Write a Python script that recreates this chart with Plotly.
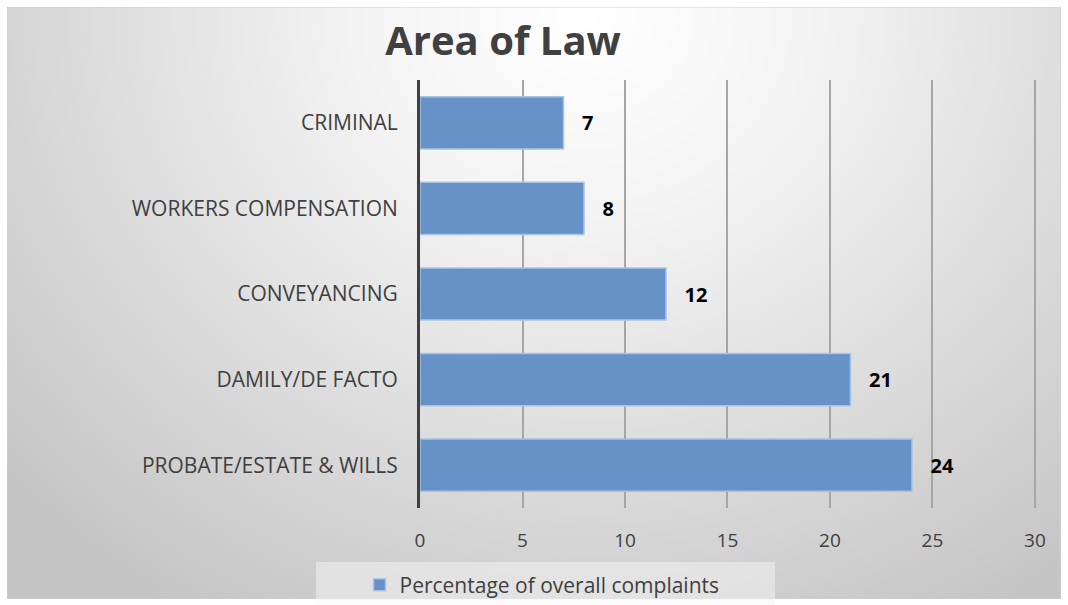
import base64
import plotly.graph_objects as go

categories = ["PROBATE/ESTATE & WILLS", "DAMILY/DE FACTO", "CONVEYANCING",
              "WORKERS COMPENSATION", "CRIMINAL"]
values = [24, 21, 12, 8, 7]
series_name = "Percentage of overall complaints"
x_ticks = [0, 5, 10, 15, 20, 25, 30]

W, H = 1068, 605
L, R, T, B = 420, 1036, 80, 508

svg = f'''<svg xmlns="http://www.w3.org/2000/svg" width="1054" height="592" viewBox="0 0 1054 592">
<defs><radialGradient id="g" gradientUnits="userSpaceOnUse" cx="580" cy="10" r="780"
gradientTransform="translate(580,10) scale(1,0.9) translate(-580,-10)">
<stop offset="0" stop-color="#ffffff"/><stop offset="0.3" stop-color="#f3f3f3"/>
<stop offset="1" stop-color="#c4c4c4"/></radialGradient></defs>
<rect x="0" y="0" width="1054" height="592" fill="url(#g)" stroke="#d0d0d0" stroke-width="1"/></svg>'''
src = "data:image/svg+xml;base64," + base64.b64encode(svg.encode()).decode()

def px(x):
    return (x - L) / (R - L)

def py(y):
    return (B - y) / (B - T)

fig = go.Figure()
fig.add_trace(go.Bar(
    y=categories, x=values, orientation="h", name=series_name,
    marker=dict(color="#6792c8", line=dict(color="#a9c3e4", width=1.5)),
    width=0.61,
    text=values, texttemplate="   <b>%{x}</b>", textposition="outside",
    textfont=dict(family="Open Sans", size=20, color="#000000"),
    cliponaxis=False,
))

fig.update_layout(
    width=W, height=H,
    margin=dict(l=L, r=W - R, t=T, b=H - B, autoexpand=False),
    paper_bgcolor="#ffffff", plot_bgcolor="rgba(0,0,0,0)",
    title=dict(text="<b>Area of Law</b>", x=503 / W, xanchor="center",
               y=1 - 41 / H, yanchor="middle",
               font=dict(family="Open Sans", size=40, color="#404040")),
    font=dict(family="Open Sans", color="#404040"),
    xaxis=dict(range=[0, 30.05], tickvals=x_ticks, showgrid=True,
               gridcolor="#a6a6a6", gridwidth=2, zeroline=False,
               showline=False, ticks="", tickfont=dict(size=19, color="#404040"),
               ticklabelstandoff=19),
    yaxis=dict(showline=True, linecolor="#404040", linewidth=3, ticks="",
               tickfont=dict(size=21, color="#404040"), ticklabelstandoff=15,
               showgrid=False),
    bargap=0.39,
    showlegend=True,
    legend=dict(orientation="h", x=px(542), xanchor="center", y=py(585),
                yanchor="middle", bgcolor="rgba(0,0,0,0)",
                font=dict(size=21, color="#404040"),
                itemwidth=30),
    shapes=[dict(type="rect", xref="paper", yref="paper",
                 x0=px(316), x1=px(775), y0=py(562), y1=py(606),
                 fillcolor="rgba(245,245,245,0.5)", line=dict(width=0),
                 layer="below")],
    images=[dict(source=src, xref="paper", yref="paper",
                 x=px(7), y=py(7), sizex=(1061 - 7) / (R - L),
                 sizey=(599 - 7) / (B - T), sizing="stretch",
                 xanchor="left", yanchor="top", layer="below")],
)

fig.write_html("out.html", config={"displayModeBar": False},
               post_script="document.body.style.margin='0';document.body.style.padding='0';")
